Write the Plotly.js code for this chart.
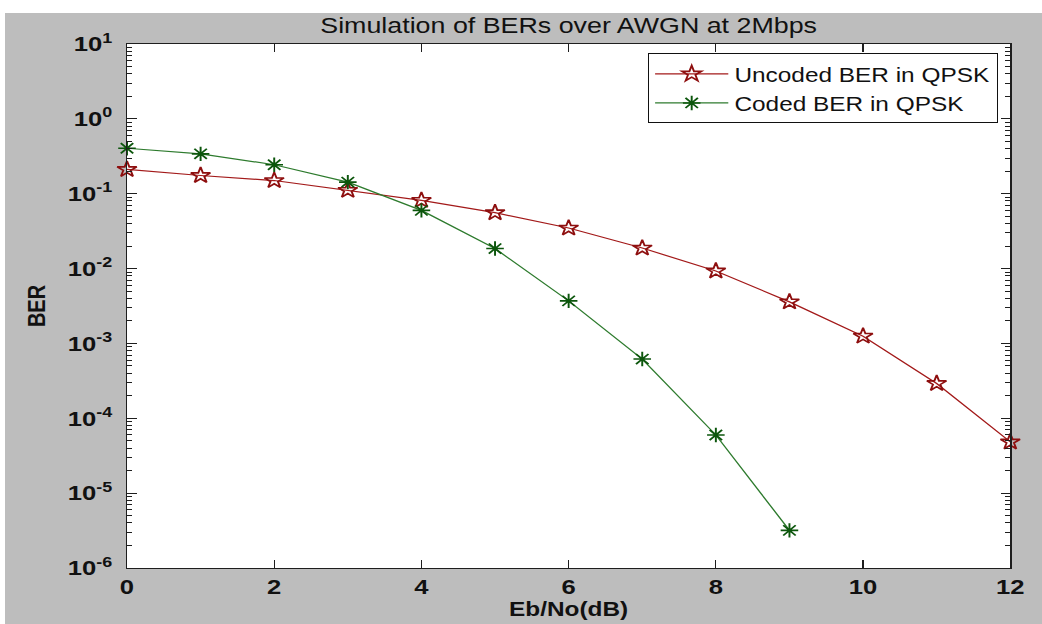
<!DOCTYPE html>
<html>
<head>
<meta charset="utf-8">
<script src="https://cdn.plot.ly/plotly-3.0.1.min.js"></script>
<style>
  html, body { margin:0; padding:0; background:#ffffff; width:1042px; height:624px; overflow:hidden; }
  #wrap { position:absolute; left:5px; top:13px; width:850px; height:611px; transform:scaleX(1.22); transform-origin:0 0; }
  #chart { width:850px; height:611px; }
</style>
</head>
<body>
<div id="wrap"><div id="chart"></div></div>
<script>
// Eb/No (dB)
const ebnoUncoded = [0, 1, 2, 3, 4, 5, 6, 7, 8, 9, 10, 11, 12];
const berUncoded  = [0.211, 0.175, 0.150, 0.111, 0.0814, 0.0558, 0.0348, 0.0188, 0.00929, 0.00359, 0.00125, 0.000292, 0.0000483];
const ebnoCoded   = [0, 1, 2, 3, 4, 5, 6, 7, 8, 9];
const berCoded    = [0.405, 0.341, 0.244, 0.143, 0.0599, 0.0185, 0.0037, 0.000618, 0.0000598, 0.00000318];

const xTickVals = [0, 2, 4, 6, 8, 10, 12];
const yTickVals = [1e-6, 1e-5, 1e-4, 1e-3, 1e-2, 1e-1, 1e0, 1e1];
const yTickText = ['10<sup>-6</sup>', '10<sup>-5</sup>', '10<sup>-4</sup>', '10<sup>-3</sup>', '10<sup>-2</sup>', '10<sup>-1</sup>', '10<sup>0</sup>', '10<sup>1</sup>'];

const seriesNames = ['Uncoded BER in QPSK', 'Coded BER in QPSK'];
const titleText = 'Simulation of BERs over AWGN at 2Mbps';
const xTitle = 'Eb/No(dB)';
const yTitle = 'BER';

// minor log ticks (2..9 in each decade)
const yMinorVals = [];
for (let i = 0; i < yTickVals.length - 1; i++) {
  for (let m = 2; m <= 9; m++) yMinorVals.push(yTickVals[i] * m);
}

const FONT = '"Liberation Sans", Arial, Helvetica, sans-serif';
const AX = '#1e1e1e';

const traces = [
  {
    x: ebnoUncoded, y: berUncoded, name: seriesNames[0],
    type: 'scatter', mode: 'lines+markers', cliponaxis: false,
    line: { color: '#a31a1a', width: 1.2 },
    marker: { symbol: 'star-open', size: 12, color: '#8e0f0f', line: { color: '#8e0f0f', width: 1.6 } }
  },
  {
    x: ebnoCoded, y: berCoded, name: seriesNames[1],
    type: 'scatter', mode: 'lines+markers', cliponaxis: false,
    line: { color: '#2e7b2e', width: 1.2 },
    marker: { symbol: 'asterisk-open', size: 12, color: '#0c560c', line: { color: '#0c560c', width: 1.6 } }
  }
];

const layout = {
  width: 850, height: 611,
  paper_bgcolor: '#bdbdbd', plot_bgcolor: '#ffffff',
  margin: { l: 100, r: 26, t: 30.5, b: 56 },
  font: { family: FONT, color: '#111111' },
  title: {
    text: titleText, font: { family: FONT, size: 22, color: '#111111' },
    x: 0.5, xref: 'paper', xanchor: 'center', y: 0.98, yref: 'container', yanchor: 'middle'
  },
  showlegend: true,
  legend: {
    x: 0.986, xanchor: 'right', y: 0.982, yanchor: 'top',
    bgcolor: '#ffffff', bordercolor: '#111111', borderwidth: 1,
    font: { family: FONT, size: 20, color: '#111111' },
    itemwidth: 60, tracegroupgap: 0
  },
  xaxis: {
    range: [0, 12], tickmode: 'array', tickvals: xTickVals,
    ticks: 'inside', ticklen: 8, tickcolor: AX, tickwidth: 1,
    showline: true, linecolor: AX, linewidth: 1, mirror: 'ticks',
    showgrid: false, zeroline: false,
    tickfont: { family: FONT, size: 21, color: '#111111', weight: 'bold' },
    title: { text: xTitle, font: { family: FONT, size: 20, color: '#111111', weight: 'bold' }, standoff: 2 }
  },
  yaxis: {
    type: 'log', range: [-6, 1], tickmode: 'array', tickvals: yTickVals, ticktext: yTickText,
    ticks: 'inside', ticklen: 8, tickcolor: AX, tickwidth: 1,
    minor: { tickmode: 'array', tickvals: yMinorVals, ticks: 'inside', ticklen: 4, tickcolor: AX, tickwidth: 1, showgrid: false },
    showline: true, linecolor: AX, linewidth: 1, mirror: 'ticks',
    showgrid: false, zeroline: false, ticklabelstandoff: 7,
    tickfont: { family: FONT, size: 21, color: '#111111', weight: 'bold' },
    title: { text: yTitle, font: { family: FONT, size: 20, color: '#111111', weight: 'bold' }, standoff: 12 }
  }
};

Plotly.newPlot('chart', traces, layout, { staticPlot: true, displayModeBar: false });
</script>
</body>
</html>
